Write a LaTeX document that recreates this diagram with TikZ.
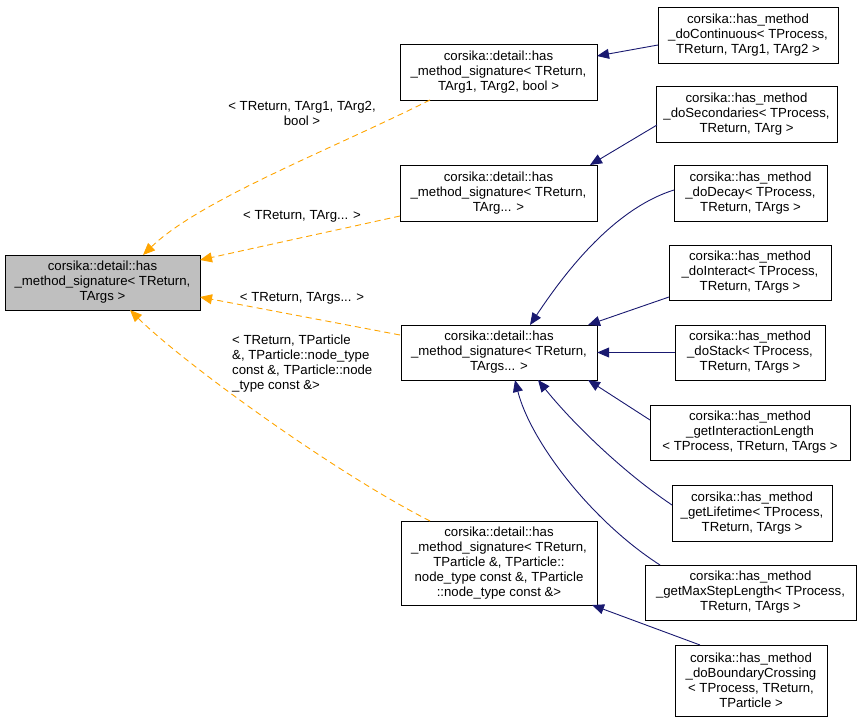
\documentclass[tikz,border=0pt]{standalone}
\usepackage{fontspec}
\setmainfont{Liberation Sans}
\usetikzlibrary{arrows.meta}
\definecolor{navy}{RGB}{25,25,112}
\definecolor{orng}{RGB}{255,165,0}
\tikzset{
 box/.style={draw=black,fill=white,align=center,inner sep=0pt,font=\fontsize{13.2}{15}\selectfont},
 inh/.style={draw=navy,-{Triangle[open,fill=navy,length=12pt,width=10pt]},line width=0.9pt},
 tpl/.style={draw=orng,dashed,dash pattern=on 6pt off 4pt,-{Triangle[open,fill=orng,length=12pt,width=10pt]},line width=0.9pt},
 lbl/.style={font=\fontsize{13.2}{15}\selectfont,align=center,inner sep=0pt}
}
\newcommand{\bx}[6]{\node[box,minimum width=#4-#2,minimum height=#5-#3] (#1) at ({(#2+#4)/2},{(#3+#5)/2}) {#6};}
\begin{document}
\begin{tikzpicture}[x=1pt,y=-1pt]
\useasboundingbox (0,0) rectangle (861,722);
\node[box,fill={rgb,255:red,191;green,191;blue,191},minimum width=195,minimum height=55] (base) at (102.5,282.5) {corsika::detail::has\\\_method\_signature< TReturn,\\ TArgs >};
\bx{A}{400}{44}{597}{100}{corsika::detail::has\\\_method\_signature< TReturn,\\ TArg1, TArg2, bool >}
\bx{B}{400}{165}{597}{221}{corsika::detail::has\\\_method\_signature< TReturn,\\ TArg... >}
\bx{C}{401}{325}{597}{380}{corsika::detail::has\\\_method\_signature< TReturn,\\ TArgs... >}
\bx{D}{401}{521}{597}{605}{corsika::detail::has\\\_method\_signature< TReturn,\\ TParticle \&, TParticle::\\node\_type const \&, TParticle\\ ::node\_type const \&>}
\bx{R1}{658}{7}{838}{63}{corsika::has\_method\\\_doContinuous< TProcess,\\ TReturn, TArg1, TArg2 >}
\bx{R2}{656}{86}{837}{142}{corsika::has\_method\\\_doSecondaries< TProcess,\\ TReturn, TArg >}
\bx{R3}{674}{165}{827}{221}{corsika::has\_method\\\_doDecay< TProcess,\\ TReturn, TArgs >}
\bx{R4}{669}{245}{831}{300}{corsika::has\_method\\\_doInteract< TProcess,\\ TReturn, TArgs >}
\bx{R5}{675}{325}{825}{380}{corsika::has\_method\\\_doStack< TProcess,\\ TReturn, TArgs >}
\bx{R6}{650}{405}{850}{460}{corsika::has\_method\\\_getInteractionLength\\< TProcess, TReturn, TArgs >}
\bx{R7}{672}{485}{832}{541}{corsika::has\_method\\\_getLifetime< TProcess,\\ TReturn, TArgs >}
\bx{R8}{645}{565}{856}{620}{corsika::has\_method\\\_getMaxStepLength< TProcess,\\ TReturn, TArgs >}
\bx{R9}{675}{645}{827}{716}{corsika::has\_method\\\_doBoundaryCrossing\\< TProcess, TReturn,\\ TParticle >}
% inheritance
\draw[inh] (658,45) -- (597,56);
\draw[inh] (657,125) -- (590,165);
\draw[inh] (674,190) .. controls (610,210) and (560,280) .. (530,325);
\draw[inh] (669,297) -- (588,325);
\draw[inh] (R5.west) -- (C.east);
\draw[inh] (650,420) -- (588,380);
\draw[inh] (672,505) .. controls (620,470) and (570,420) .. (538,380);
\draw[inh] (660,565) .. controls (590,520) and (530,440) .. (515,380);
\draw[inh] (700,645) -- (592,605);
% template instances
\draw[tpl] (430,100) .. controls (330,150) and (200,200) .. (143,255);
\draw[tpl] (400,216) -- (200,260);
\draw[tpl] (400,335) -- (200,297);
\draw[tpl] (430,521) .. controls (330,470) and (180,360) .. (130,310);
\node[lbl] (l1) at (302,113) {< TReturn, TArg1, TArg2,\\ bool >};
\node[lbl] (l2) at (302,216) {< TReturn, TArg... >};
\node[lbl] (l3) at (302,298) {< TReturn, TArgs... >};
\node[lbl,align=left,anchor=north west] (l4) at (232,335) {< TReturn, TParticle\\\&, TParticle::node\_type\\const \&, TParticle::node\\\_type const \&>};
\end{tikzpicture}
\end{document}
